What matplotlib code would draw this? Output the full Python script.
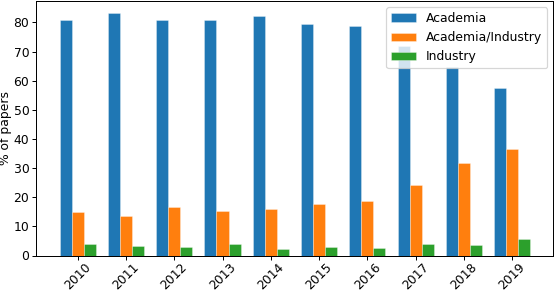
import numpy as np
import matplotlib
matplotlib.use("Agg")
import matplotlib.pyplot as plt

years = ["2010", "2011", "2012", "2013", "2014", "2015", "2016", "2017", "2018", "2019"]
academia = [81.0, 83.2, 80.7, 80.8, 82.2, 79.3, 78.8, 71.8, 64.8, 57.6]
academia_industry = [15.0, 13.5, 16.5, 15.4, 15.8, 17.8, 18.7, 24.3, 31.6, 36.7]
industry = [4.0, 3.3, 2.8, 3.8, 2.1, 3.0, 2.6, 3.9, 3.7, 5.7]

series = [("Academia", academia, "#1f77b4"),
          ("Academia/Industry", academia_industry, "#ff7f0e"),
          ("Industry", industry, "#2ca02c")]

# the reference looks like a default-styled figure shrunk a bit, so use a lower dpi
DPI = 89
fig, ax = plt.subplots(figsize=(556 / DPI, 292 / DPI), dpi=DPI)
x = np.arange(len(years))
w = 0.25
for i, (name, vals, col) in enumerate(series):
    ax.bar(x + (i - 1) * w, vals, w, label=name, color=col,
           edgecolor=(1, 1, 1, 0.5), linewidth=0.5)

ax.set_xticks(x)
ax.set_xticklabels(years, rotation=45)
ax.tick_params(axis="x", pad=0.5)
ax.tick_params(axis="y", pad=2)
ax.set_xlim(-0.86, len(years) - 1 + 0.85)
ax.set_ylim(0, 87.4)
ax.set_ylabel("% of papers", labelpad=1)
ax.legend(loc="upper right")

fig.subplots_adjust(left=0.065, right=0.995, top=0.997, bottom=0.125)
fig.savefig("out.png", dpi=DPI)
